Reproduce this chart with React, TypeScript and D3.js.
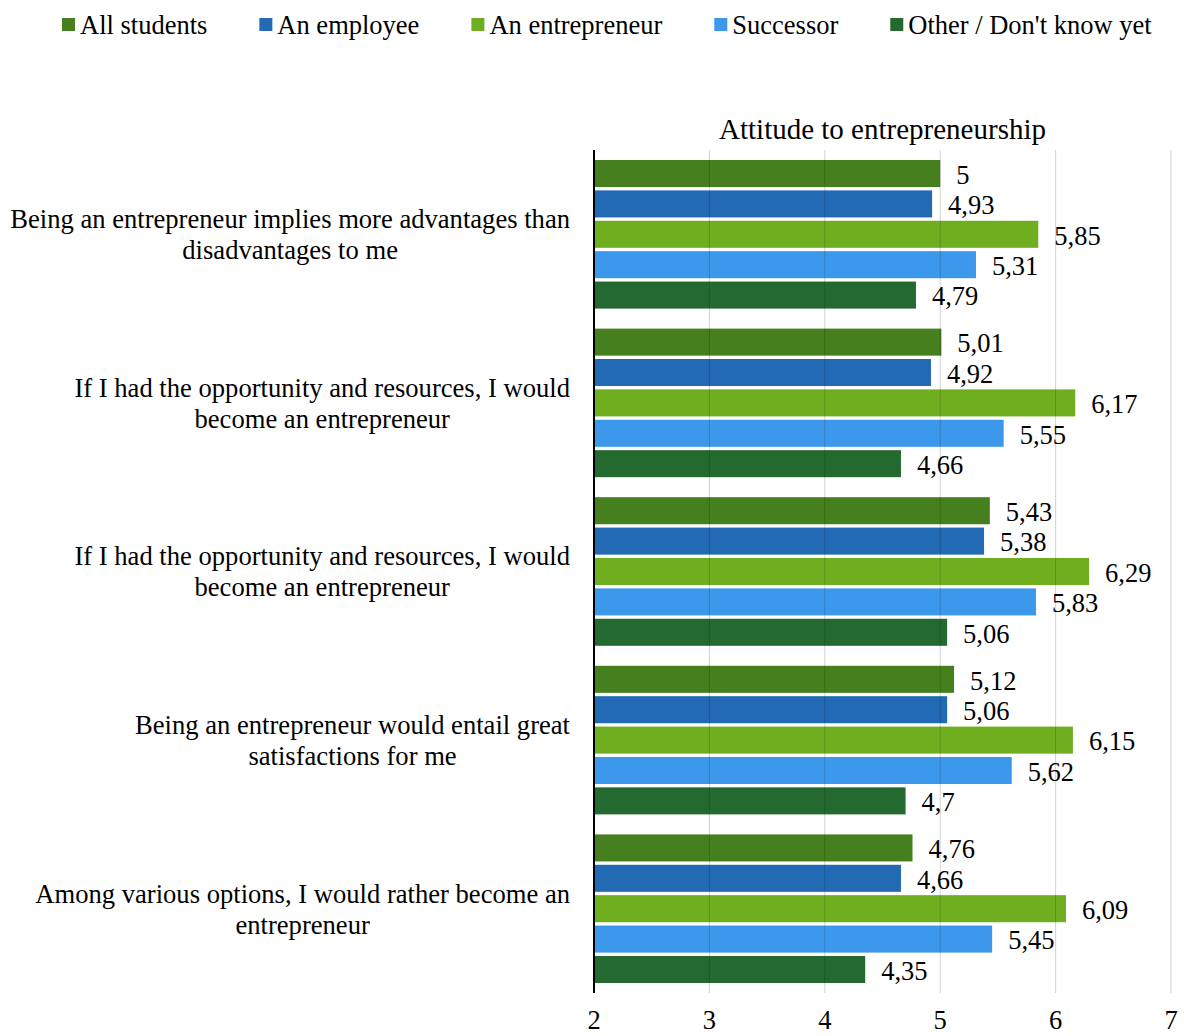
import React, { useRef, useEffect } from 'react';
import * as d3 from 'd3';

const categories = [
  ['Being an entrepreneur implies more advantages than', 'disadvantages to me'],
  ['If I had the opportunity and resources, I would', 'become an entrepreneur'],
  ['If I had the opportunity and resources, I would', 'become an entrepreneur'],
  ['Being an entrepreneur would entail great', 'satisfactions for me'],
  ['Among various options, I would rather become an', 'entrepreneur'],
];

const seriesNames = ['All students', 'An employee', 'An entrepreneur', 'Successor', 'Other / Don\'t know yet'];
const seriesColors = ['#467f1d', '#236ab4', '#6faf1f', '#3c98ea', '#246a30'];

const allStudents = [5, 5.01, 5.43, 5.12, 4.76];
const anEmployee = [4.93, 4.92, 5.38, 5.06, 4.66];
const anEntrepreneur = [5.85, 6.17, 6.29, 6.15, 6.09];
const successor = [5.31, 5.55, 5.83, 5.62, 5.45];
const otherDontKnow = [4.79, 4.66, 5.06, 4.7, 4.35];

const xTicks = [2, 3, 4, 5, 6, 7];
const title = 'Attitude to entrepreneurship';

const W = 1184;
const H = 1036;
const FONT = '"Liberation Serif", "Times New Roman", serif';

const App: React.FC = () => {
  const svgRef = useRef<SVGSVGElement>(null);

  useEffect(() => {
    document.body.style.margin = '0';
    if (!svgRef.current) return;
    const svg = d3.select(svgRef.current);
    svg.selectAll('*').remove();

    const series = [allStudents, anEmployee, anEntrepreneur, successor, otherDontKnow];
    const plot = { left: 594, right: 1171, top: 150, bottom: 993 };

    const x = d3.scaleLinear().domain([2, 7]).range([plot.left, plot.right]);
    const y = d3.scaleBand<number>()
      .domain(d3.range(categories.length))
      .range([plot.top, plot.bottom]);
    const inner = d3.scaleBand<number>()
      .domain(d3.range(series.length))
      .range([10, y.bandwidth() - 10])
      .paddingInner(0.11);

    // bars
    const groups = svg.append('g')
      .selectAll('g')
      .data(categories.map((_, i) => i))
      .join('g')
      .attr('transform', i => `translate(0,${y(i)})`);

    groups.each(function (ci) {
      const g = d3.select(this);
      series.forEach((vals, si) => {
        const v = vals[ci];
        const by = inner(si)!;
        g.append('rect')
          .attr('x', x(2))
          .attr('y', by)
          .attr('width', x(v) - x(2))
          .attr('height', inner.bandwidth())
          .attr('fill', seriesColors[si]);
        g.append('text')
          .attr('x', x(v) + 16)
          .attr('y', by + inner.bandwidth() / 2 + 1)
          .attr('dy', '0.35em')
          .attr('font-family', FONT)
          .attr('font-size', 26.5)
          .attr('fill', '#000')
          .text(String(v).replace('.', ','));
      });
    });

    // grid (drawn over bars, faint, like the original)
    svg.append('g')
      .selectAll('line')
      .data(xTicks.slice(1))
      .join('line')
      .attr('x1', d => x(d)).attr('x2', d => x(d))
      .attr('y1', plot.top).attr('y2', plot.bottom)
      .attr('stroke', '#000').attr('stroke-opacity', 0.18).attr('stroke-width', 1);

    // axis line
    svg.append('line')
      .attr('x1', x(2)).attr('x2', x(2))
      .attr('y1', plot.top).attr('y2', plot.bottom)
      .attr('stroke', '#000').attr('stroke-width', 2);

    // tick labels
    svg.append('g')
      .selectAll('text')
      .data(xTicks)
      .join('text')
      .attr('x', d => x(d))
      .attr('y', 1029)
      .attr('text-anchor', 'middle')
      .attr('font-family', FONT)
      .attr('font-size', 26.5)
      .text(d => String(d));

    // title
    svg.append('text')
      .attr('x', (plot.left + plot.right) / 2)
      .attr('y', 139)
      .attr('text-anchor', 'middle')
      .attr('font-family', FONT)
      .attr('font-size', 29)
      .text(title);

    // category labels
    categories.forEach((lines, i) => {
      const cy = y(i)! + y.bandwidth() / 2;
      const t = svg.append('text')
        .attr('font-family', FONT)
        .attr('font-size', 26.6)
        .attr('text-anchor', 'middle');
      const spans = lines.map((line, li) =>
        t.append('tspan')
          .attr('y', cy + (li - (lines.length - 1) / 2) * 31)
          .attr('dy', '0.35em')
          .text(line)
      );
      const maxW = d3.max(spans, s => (s.node() as SVGTSpanElement).getComputedTextLength()) || 0;
      spans.forEach(s => s.attr('x', 570 - maxW / 2));
    });

    // legend
    const legend = svg.append('g');
    let lx = 0;
    seriesNames.forEach((name, i) => {
      const item = legend.append('g').attr('transform', `translate(${lx},0)`);
      item.append('rect')
        .attr('x', 0).attr('y', 18).attr('width', 13).attr('height', 13)
        .attr('fill', seriesColors[i]);
      const t = item.append('text')
        .attr('x', 18).attr('y', 25)
        .attr('dy', '0.35em')
        .attr('font-family', FONT)
        .attr('font-size', 26.5)
        .text(name);
      const tw = (t.node() as SVGTextElement).getComputedTextLength();
      lx += 18 + tw + 52;
    });
    legend.attr('transform', 'translate(62,0)');
  }, []);

  return <svg ref={svgRef} width={W} height={H} style={{ display: 'block', background: '#fff' }} />;
};

export default App;
